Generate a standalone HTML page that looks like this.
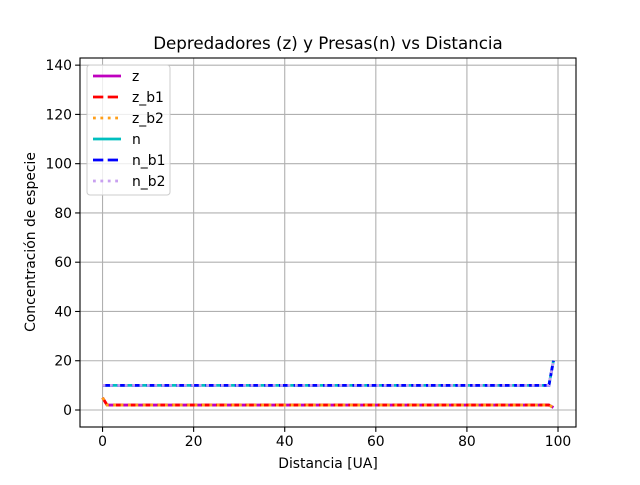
<!DOCTYPE html>
<html><head><meta charset="utf-8"><style>body{margin:0;background:#fff}svg text{font-family:"DejaVu Sans","Liberation Sans",sans-serif;fill:#000}</style></head>
<body>
<svg id="c" width="640" height="480"></svg>
<script>
const xs=[0,1,98,99];
const zVals=[5,2,2,1];
const nVals=[10,10,10,20];
const xTicks=[0,20,40,60,80,100];
const yTicks=[0,20,40,60,80,100,120,140];
const seriesNames=["z","z_b1","z_b2","n","n_b1","n_b2"];
const L=80,R=576,T=58,B=427;
const X=v=>L+(v+4.95)/(103.95+4.95)*(R-L);
const Y=v=>B-(v+6.9)/(142.9+6.9)*(B-T);
const s=document.getElementById('c');const NS='http://www.w3.org/2000/svg';
function el(t,a,p){const e=document.createElementNS(NS,t);for(const k in a)e.setAttribute(k,a[k]);(p||s).appendChild(e);return e;}
el('rect',{x:L,y:T,width:R-L,height:B-T,fill:'#fff'});
const grid=el('g',{});
xTicks.forEach(t=>{const x=X(t);el('line',{x1:x,x2:x,y1:T,y2:B,stroke:'#b0b0b0','stroke-width':1.1},grid);el('line',{x1:x,x2:x,y1:B,y2:B+4.9,stroke:'#000','stroke-width':1.1});const tx=el('text',{x:x,y:B+19,'text-anchor':'middle','font-size':13.9});tx.textContent=t;});
yTicks.forEach(t=>{const y=Y(t);el('line',{x1:L,x2:R,y1:y,y2:y,stroke:'#b0b0b0','stroke-width':1.1},grid);el('line',{x1:L-4.9,x2:L,y1:y,y2:y,stroke:'#000','stroke-width':1.1});const tx=el('text',{x:L-8,y:y+5,'text-anchor':'end','font-size':13.9});tx.textContent=t;});
const styles=[{c:'#bf00bf',d:''},{c:'#ff0000',d:'10.3,4.4'},{c:'#ff9f1a',d:'2.8,4.6'},{c:'#00bfbf',d:''},{c:'#0000ff',d:'10.3,4.4'},{c:'#c8a0f0',d:'2.8,4.6'}];
const data=[zVals,zVals,zVals,nVals,nVals,nVals];
data.forEach((d,i)=>{const p=el('polyline',{points:xs.map((x,j)=>X(x)+','+Y(d[j])).join(' '),fill:'none',stroke:styles[i].c,'stroke-width':2.8,'stroke-dasharray':styles[i].d});});
el('rect',{x:L,y:T,width:R-L,height:B-T,fill:'none',stroke:'#000','stroke-width':1.1});
const lg=el('g',{});
el('rect',{x:87,y:65,width:83,height:130,rx:3,fill:'#fff','fill-opacity':0.8,stroke:'#ccc'},lg);
seriesNames.forEach((n,i)=>{const y=76+i*21;const e=el('g',{},lg);el('line',{x1:93,x2:121,y1:y,y2:y,stroke:styles[i].c,'stroke-width':2.8,'stroke-dasharray':styles[i].d},e);const t=el('text',{x:132,y:y+5,'font-size':13.9},e);t.textContent=n;});
let t=el('text',{x:328,y:49,'text-anchor':'middle','font-size':16.7});t.textContent='Depredadores (z) y Presas(n) vs Distancia';
t=el('text',{x:328,y:468,'text-anchor':'middle','font-size':13.9});t.textContent='Distancia [UA]';
t=el('text',{x:0,y:0,'text-anchor':'middle','font-size':13.9,transform:'translate(35,242) rotate(-90)'});t.textContent='Concentración de especie';
</script>
</body></html>
